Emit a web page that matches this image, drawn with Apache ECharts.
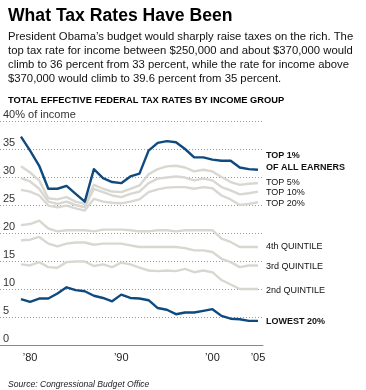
<!DOCTYPE html>
<html><head><meta charset="utf-8">
<script src="https://cdn.jsdelivr.net/npm/echarts@6/dist/echarts.min.js"></script>
<style>html,body{margin:0;padding:0;background:#fff}#c{width:366px;height:390px}</style>
</head><body><div id="c"></div>
<script>
const years = [1979,1980,1981,1982,1983,1984,1985,1986,1987,1988,1989,1990,1991,1992,1993,1994,1995,1996,1997,1998,1999,2000,2001,2002,2003,2004,2005];
const top1 =    [37.2,34.7,32.0,27.9,27.9,28.4,27.0,25.6,31.4,29.8,29.1,28.9,30.1,30.6,34.7,36.1,36.4,36.2,35.0,33.5,33.5,33.1,32.9,32.9,31.7,31.4,31.3];
const top5 =    [31.9,30.8,29.4,26.2,26.0,26.4,25.6,25.2,28.6,27.9,27.4,27.3,27.9,28.5,30.5,31.4,31.9,32.0,31.7,31.0,31.3,31.0,30.0,29.1,28.6,28.8,28.9];
const top10 =   [29.8,29.2,27.9,25.6,25.2,25.6,25.0,24.6,27.9,27.3,26.7,26.4,27.0,27.4,28.9,29.7,29.9,30.1,29.9,29.4,29.7,29.4,28.2,27.6,26.9,27.1,27.4];
const top20 =   [27.7,27.4,26.7,24.9,24.6,24.9,24.4,24.0,26.1,25.6,25.4,25.3,25.6,26.0,27.3,27.8,28.1,28.2,28.2,27.9,28.2,28.0,26.7,26.0,25.0,25.2,25.5];
const quint4 =  [21.4,21.6,22.2,20.8,20.3,20.5,20.5,20.5,20.3,20.6,20.6,20.6,20.5,20.3,20.3,20.5,20.5,20.3,20.5,20.5,20.5,20.5,19.0,18.4,17.5,17.5,17.5];
const quint3 =  [18.7,18.8,19.3,18.1,17.6,18.1,18.3,18.3,17.9,18.1,18.1,18.1,17.8,17.5,17.5,17.5,17.5,17.5,17.3,16.9,16.9,16.6,15.4,14.8,13.9,14.2,14.2];
const quint2 =  [14.4,14.2,14.8,13.9,13.8,14.8,14.9,14.9,14.1,14.4,13.9,14.7,14.4,13.8,13.3,13.2,13.3,13.2,13.6,13.0,13.3,13.0,11.6,10.8,10.0,10.0,10.0];
const lowest =  [8.2,7.7,8.3,8.3,9.2,10.3,9.8,9.6,8.8,8.4,7.8,9.0,8.4,8.3,8.0,6.6,6.3,5.5,5.8,5.8,6.1,6.4,5.2,4.7,4.6,4.3,4.3];
const xTicks = [1980,1990,2000,2005];
const yTicks = [0,5,10,15,20,25,30,35,40];
const seriesNames = ['TOP 20%','TOP 10%','TOP 5%','4th QUINTILE','3rd QUINTILE','2nd QUINTILE','TOP 1%\nOF ALL EARNERS','LOWEST 20%'];
const seriesData = [top20, top10, top5, quint4, quint3, quint2, top1, lowest];

const BLUE = '#0e4a7f', GRAY = '#d9d7d1';
const FONT = '"Liberation Sans", Arial, sans-serif';
const pairs = arr => years.map((y, i) => [y, arr[i]]);

const labelPos = {
  'TOP 1%\nOF ALL EARNERS': 161, 'TOP 5%': 182, 'TOP 10%': 192.5, 'TOP 20%': 203.5,
  '4th QUINTILE': 246.5, '3rd QUINTILE': 266.5, '2nd QUINTILE': 290.5, 'LOWEST 20%': 321.5
};

const chart = echarts.init(document.getElementById('c'), null, {renderer: 'canvas'});
chart.setOption({
  animation: false,
  backgroundColor: '#fff',
  title: [
    {text: 'What Tax Rates Have Been', left: 3, top: 2,
     textStyle: {fontFamily: FONT, fontWeight: 900, fontSize: 17.6, color: '#000'}},
    {text: 'President Obama\u2019s budget would sharply raise taxes on the rich. The\ntop tax rate for income between $250,000 and about $370,000 would\nclimb to 36 percent from 33 percent, while the rate for income above\n$370,000 would climb to 39.6 percent from 35 percent.',
     left: 3, top: 25,
     textStyle: {fontFamily: FONT, fontWeight: 'normal', fontSize: 11.3, lineHeight: 14, color: '#111'}},
    {text: 'TOTAL EFFECTIVE FEDERAL TAX RATES BY INCOME GROUP', left: 3, top: 91,
     textStyle: {fontFamily: FONT, fontWeight: 'bold', fontSize: 9.3, color: '#000'}},
    {text: 'Source: Congressional Budget Office', left: 3, top: 375,
     textStyle: {fontFamily: FONT, fontWeight: 'normal', fontStyle: 'italic', fontSize: 8.6, color: '#222'}}
  ],
  grid: {left: 0, right: 103, top: 121, bottom: 45},
  xAxis: {
    type: 'value', min: 1976.7, max: 2005.55,
    axisLine: {show: true, onZero: false, lineStyle: {color: '#888', width: 1}},
    axisTick: {show: false},
    splitLine: {show: false},
    axisLabel: {customValues: xTicks, formatter: v => '\u2019' + String(v).slice(2),
      fontFamily: FONT, fontSize: 11, color: '#222', margin: 7}
  },
  yAxis: {
    type: 'value', min: 0, max: 40, interval: 5,
    axisLine: {show: false}, axisTick: {show: false},
    splitLine: {show: true, lineStyle: {color: '#999', type: [1, 2], width: 1}},
    axisLabel: {inside: true, margin: 3, verticalAlign: 'bottom', padding: [0, 0, 1, 0],
      fontFamily: FONT, fontSize: 11, color: '#333',
      formatter: v => v === 40 ? '40% of income' : String(v)}
  },
  series: seriesNames.map((name, i) => {
    const blue = name.startsWith('TOP 1%') || name === 'LOWEST 20%';
    return {
      name, type: 'line', data: pairs(seriesData[i]), symbol: 'none', smooth: false,
      z: blue ? 5 : 2,
      lineStyle: {color: blue ? BLUE : GRAY, width: 2.4, join: 'round'},
      silent: true
    };
  }),
  graphic: seriesNames.map(name => {
    const bold = name.startsWith('TOP 1%') || name === 'LOWEST 20%';
    return {
      type: 'text', left: 266, top: labelPos[name] - (name.includes('\n') ? 11 : 5.5),
      style: {text: name, font: (bold ? 'bold ' : '') + '9px ' + FONT, fill: '#111', lineHeight: 11.5}
    };
  })
});
</script></body></html>
